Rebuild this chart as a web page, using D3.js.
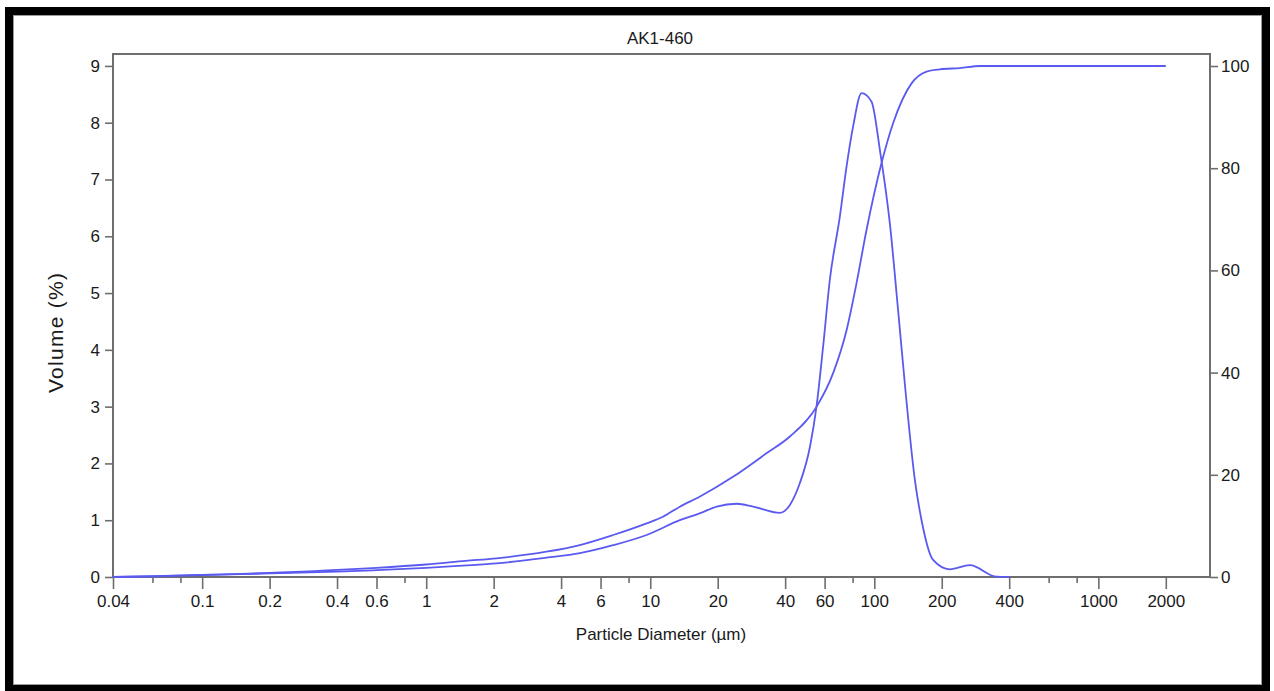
<!DOCTYPE html>
<html>
<head>
<meta charset="utf-8">
<script src="https://cdn.jsdelivr.net/npm/d3@7"></script>
<style>
  html, body { margin: 0; padding: 0; background: #fff; }
  svg { display: block; }
  text { font-family: "Liberation Sans", Arial, sans-serif; fill: #1a1a1a; }
</style>
</head>
<body>
<svg id="chart" width="1274" height="691"></svg>
<script>
// ---- data ----
const chartTitle = "AK1-460";
const xTitle = "Particle Diameter (µm)";
const yTitle = "Volume (%)";

// frequency curve (left axis, Volume %)
const freqSize = [0.04, 0.06, 0.1, 0.15, 0.2, 0.3, 0.4, 0.6, 1, 1.46, 2.06, 3.44, 4.85, 6.83, 9.63, 13.56, 16.6, 19.8, 24.3, 28.8, 37.9, 42.0, 46.5, 51.6, 55.2, 59.1, 63.3, 70.2, 75.2, 80.4, 87.7, 97.2, 105.9, 117.3, 127.7, 138.3, 151.7, 162.5, 183, 217, 267, 351, 402];
const freqValue = [0, 0.01, 0.035, 0.05, 0.065, 0.08, 0.093, 0.12, 0.16, 0.20, 0.24, 0.34, 0.42, 0.56, 0.74, 1.00, 1.12, 1.24, 1.29, 1.24, 1.13, 1.27, 1.65, 2.29, 3.0, 4.06, 5.23, 6.35, 7.23, 7.93, 8.52, 8.37, 7.52, 6.23, 4.70, 3.21, 1.71, 1.00, 0.30, 0.136, 0.21, 0.005, 0];

// cumulative curve (right axis, %)
const cumSize = [0.04, 0.06, 0.1, 0.15, 0.2, 0.3, 0.4, 0.6, 1, 1.5, 2.06, 3.44, 4.85, 6.83, 9.63, 11.4, 13.56, 16.6, 23.4, 33.0, 42.0, 55.2, 65.5, 75.2, 83.3, 92.3, 107.7, 121.3, 146.6, 171, 196, 241, 296, 2000];
const cumValue = [0, 0.15, 0.4, 0.6, 0.8, 1.1, 1.4, 1.8, 2.45, 3.15, 3.66, 4.95, 6.26, 8.22, 10.5, 11.8, 13.76, 15.7, 19.6, 24.2, 27.5, 33.3, 39.9, 48.3, 57.5, 67.9, 81.0, 88.8, 96.6, 98.9, 99.35, 99.6, 100, 100];

const xTickValues = [0.04, 0.1, 0.2, 0.4, 0.6, 1, 2, 4, 6, 10, 20, 40, 60, 100, 200, 400, 1000, 2000];
const xMinorTickValues = [0.06, 0.08, 0.8, 8, 80, 600, 800];
const yLeftTicks = [0, 1, 2, 3, 4, 5, 6, 7, 8, 9];
const yRightTicks = [0, 20, 40, 60, 80, 100];
const xDomain = [0.04, 3150];
const yLeftDomain = [0, 9.21];
const yRightDomain = [0, 102.35];

// ---- layout ----
const svg = d3.select("#chart");
const plot = { left: 113, right: 1210, top: 54, bottom: 577 };
const lineColor = "#5a5af0";
const axisColor = "#6e6e6e";

// outer frame
svg.append("rect").attr("x", 9).attr("y", 11).attr("width", 1257).attr("height", 678)
  .attr("fill", "#fff").attr("stroke", "#000").attr("stroke-width", 8);
svg.append("rect").attr("x", 13.5).attr("y", 15.5).attr("width", 1248).attr("height", 669)
  .attr("fill", "none").attr("stroke", "#9a9a9a").attr("stroke-width", 1);

const x = d3.scaleLog().domain(xDomain).range([plot.left, plot.right]);
const yL = d3.scaleLinear().domain(yLeftDomain).range([plot.bottom, plot.top]);
const yR = d3.scaleLinear().domain(yRightDomain).range([plot.bottom, plot.top]);

function styleAxis(g) {
  g.select(".domain").remove();
  g.selectAll(".tick line").attr("stroke", axisColor).attr("stroke-width", 1.6);
  g.selectAll(".tick text").attr("font-size", 17).attr("fill", "#1a1a1a")
    .attr("font-family", '"Liberation Sans", Arial, sans-serif');
}

// x axis major
const gx = svg.append("g").attr("transform", `translate(0,${plot.bottom})`)
  .call(d3.axisBottom(x).tickValues(xTickValues).tickFormat(d => String(d)).tickSize(12).tickPadding(6));
styleAxis(gx);
// x axis minor
const gxm = svg.append("g").attr("transform", `translate(0,${plot.bottom})`)
  .call(d3.axisBottom(x).tickValues(xMinorTickValues).tickFormat("").tickSize(6));
styleAxis(gxm);

// left axis
const gl = svg.append("g").attr("transform", `translate(${plot.left},0)`)
  .call(d3.axisLeft(yL).tickValues(yLeftTicks).tickFormat(d3.format("d")).tickSize(8).tickPadding(5));
styleAxis(gl);

// right axis
const gr = svg.append("g").attr("transform", `translate(${plot.right},0)`)
  .call(d3.axisRight(yR).tickValues(yRightTicks).tickFormat(d3.format("d")).tickSize(8).tickPadding(3));
styleAxis(gr);

// plot frame
svg.append("rect").attr("x", plot.left).attr("y", plot.top)
  .attr("width", plot.right - plot.left).attr("height", plot.bottom - plot.top)
  .attr("fill", "none").attr("stroke", axisColor).attr("stroke-width", 2);

// curves
const freqData = freqSize.map((s, i) => [s, freqValue[i]]);
const cumData = cumSize.map((s, i) => [s, cumValue[i]]);

svg.append("path").datum(cumData)
  .attr("fill", "none").attr("stroke", lineColor).attr("stroke-width", 1.8)
  .attr("d", d3.line().x(d => x(d[0])).y(d => yR(d[1])).curve(d3.curveMonotoneX));

svg.append("path").datum(freqData)
  .attr("fill", "none").attr("stroke", lineColor).attr("stroke-width", 1.8)
  .attr("d", d3.line().x(d => x(d[0])).y(d => yL(d[1])).curve(d3.curveMonotoneX));

// titles
svg.append("text").attr("x", 660).attr("y", 44).attr("text-anchor", "middle")
  .attr("font-size", 17).text(chartTitle);
svg.append("text").attr("x", 661).attr("y", 640).attr("text-anchor", "middle")
  .attr("font-size", 17).text(xTitle);
svg.append("text").attr("transform", "translate(63,333) rotate(-90)").attr("text-anchor", "middle")
  .attr("font-size", 21).attr("textLength", 120).attr("lengthAdjust", "spacing").text(yTitle);
</script>
</body>
</html>
